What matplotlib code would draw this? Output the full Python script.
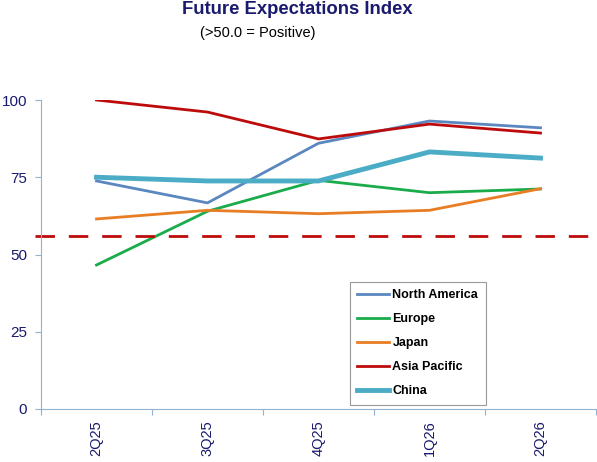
import numpy as np
import matplotlib
matplotlib.use("Agg")
import matplotlib.pyplot as plt

plt.rcParams['font.family'] = ['Liberation Sans', 'DejaVu Sans']

quarters = ["2Q25", "3Q25", "4Q25", "1Q26", "2Q26"]
north_america = [73.8, 66.7, 86.0, 93.2, 91.0]
europe = [46.6, 64.0, 74.0, 70.0, 71.2]
japan = [61.5, 64.3, 63.2, 64.3, 71.3]
asia_pacific = [100.0, 96.1, 87.4, 92.2, 89.3]
china = [75.0, 73.8, 73.8, 83.2, 81.2]
threshold = 56.0

navy = "#1a1a6e"
axis_blue = "#8fb3d0"

fig = plt.figure(figsize=(5.97, 4.62), dpi=100)
ax = fig.add_axes([41 / 597, 1 - 409 / 462, 555 / 597, 309 / 462])

x = np.arange(len(quarters))
ax.plot(x, north_america, color="#5b87c0", lw=2, label="North America")
ax.plot(x, europe, color="#1aab4a", lw=2, label="Europe")
ax.plot(x, japan, color="#e97d23", lw=2, label="Japan")
ax.plot(x, asia_pacific, color="#bd0b0b", lw=2, label="Asia Pacific")
ax.plot(x, china, color="#4bacc6", lw=3.5, label="China")
ax.plot([-0.55, 4.5], [threshold, threshold], color="#bd0b0b", lw=2,
        dashes=(7, 5), clip_on=False)

ax.set_xlim(-0.5, 4.5)
ax.set_ylim(0, 100)
ax.set_yticks([0, 25, 50, 75, 100])
ax.set_xticks(np.arange(-0.5, 5, 1), minor=False)
ax.set_xticklabels([])
ax.set_xticks(x, minor=True)
ax.set_xticklabels(quarters, minor=True, rotation=90)
ax.tick_params(axis="x", which="minor", length=0, pad=8, labelsize=10.5, labelcolor=navy)
ax.tick_params(axis="x", which="major", length=4, color=axis_blue, direction="out")
ax.tick_params(axis="y", length=4, color=axis_blue, labelsize=11, labelcolor=navy, pad=6)

for s in ("top", "right"):
    ax.spines[s].set_visible(False)
for s in ("left", "bottom"):
    ax.spines[s].set_color(axis_blue)

leg = ax.legend(loc="upper left", bbox_to_anchor=(350 / 597, 1 - 282 / 462),
                bbox_transform=fig.transFigure,
                prop={"weight": "bold", "size": 9}, frameon=True, fancybox=False,
                edgecolor="#808080", handlelength=2.5, handletextpad=0.3,
                labelspacing=0.95, borderpad=0.6, borderaxespad=0)
leg.get_frame().set_linewidth(0.8)

fig.text(297 / 597, 1 - 9 / 462, "Future Expectations Index", ha="center", va="center",
         fontsize=13.3, fontweight="bold", color=navy)
fig.text(258 / 597, 1 - 33 / 462, "(>50.0 = Positive)", ha="center", va="center",
         fontsize=10.5, color="black")

fig.savefig("out.png", dpi=100)
